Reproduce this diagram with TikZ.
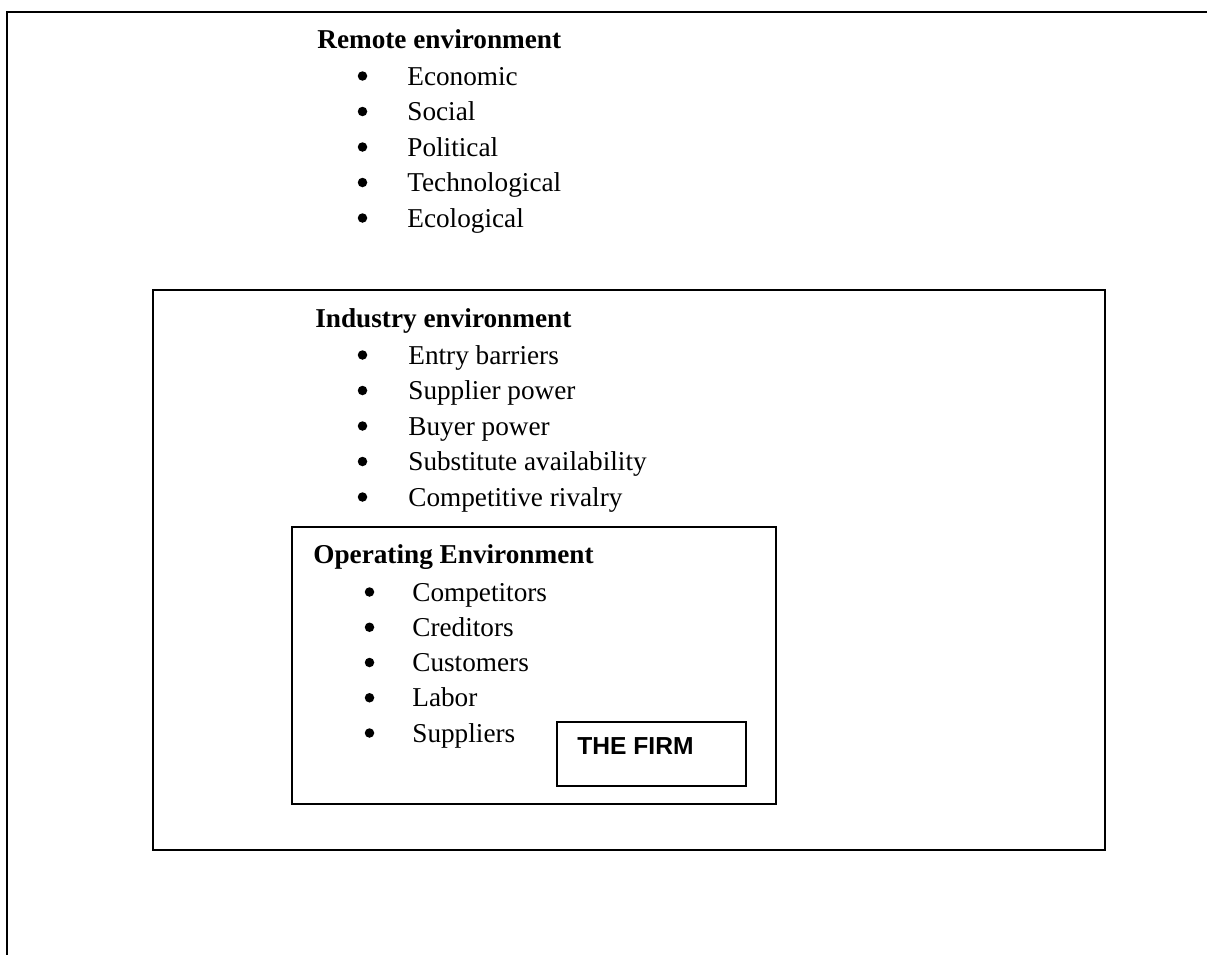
\documentclass[tikz,border=0pt]{standalone}
\usepackage{fontspec}
\setmainfont{Liberation Serif}
\newfontfamily\firmfont{Liberation Sans}
\usetikzlibrary{calc,positioning}

\begin{document}
\begin{tikzpicture}[
    envbox/.style={rectangle, draw, line width=1.1pt, inner sep=0pt},
    heading/.style={anchor=base west, inner sep=0pt, font=\fontsize{15.5}{18}\selectfont\bfseries},
    item/.style={anchor=base west, inner sep=0pt, font=\fontsize{15.5}{18}\selectfont},
    dot/.style={circle, fill, inner sep=0pt, minimum size=0.19cm}
]
    \useasboundingbox (0,0) rectangle (24.14,-19.08);

    % Outer frame, open at right and bottom
    \draw[line width=1.4pt] (0.14,-19.3) -- (0.14,-0.24) -- (24.3,-0.24);

    % Nested boxes
    \node[envbox, minimum width=19.04cm, minimum height=11.2cm] (industry) at (12.58,-11.40) {};
    \node[envbox, minimum width=9.68cm, minimum height=5.54cm] (operating) at (10.68,-13.31) {};
    \node[envbox, minimum width=3.78cm, minimum height=1.28cm] (firm) at (13.03,-15.08) {};
    \node[anchor=base west, inner sep=0pt, font=\firmfont\fontsize{14}{16}\selectfont\bfseries]
        (firmlabel) at ($(firm.north west)+(0.42,-0.66)$) {THE FIRM};

    % Remote environment
    \node[heading] (remote) at (6.34,-0.96) {Remote environment};
    \foreach \txt [count=\i] in {Economic, Social, Political, Technological, Ecological} {
        \node[dot] (rb\i) at (7.25,{-1.52-0.71*(\i-1)}) {};
        \node[item] (r\i) at (8.14,{-1.70-0.71*(\i-1)}) {\txt};
    }

    % Industry environment
    \node[heading] (indhead) at (6.30,-6.54) {Industry environment};
    \foreach \txt [count=\i] in {Entry barriers, Supplier power, Buyer power, Substitute availability, Competitive rivalry} {
        \node[dot] (ib\i) at (7.25,{-7.10-0.71*(\i-1)}) {};
        \node[item] (i\i) at (8.16,{-7.28-0.71*(\i-1)}) {\txt};
    }

    % Operating environment
    \node[heading] (ophead) at (6.26,-11.26) {Operating Environment};
    \foreach \txt [count=\i] in {Competitors, Creditors, Customers, Labor, Suppliers} {
        \node[dot] (ob\i) at (7.39,{-11.84-0.705*(\i-1)}) {};
        \node[item] (o\i) at (8.24,{-12.02-0.705*(\i-1)}) {\txt};
    }

\end{tikzpicture}
\end{document}
